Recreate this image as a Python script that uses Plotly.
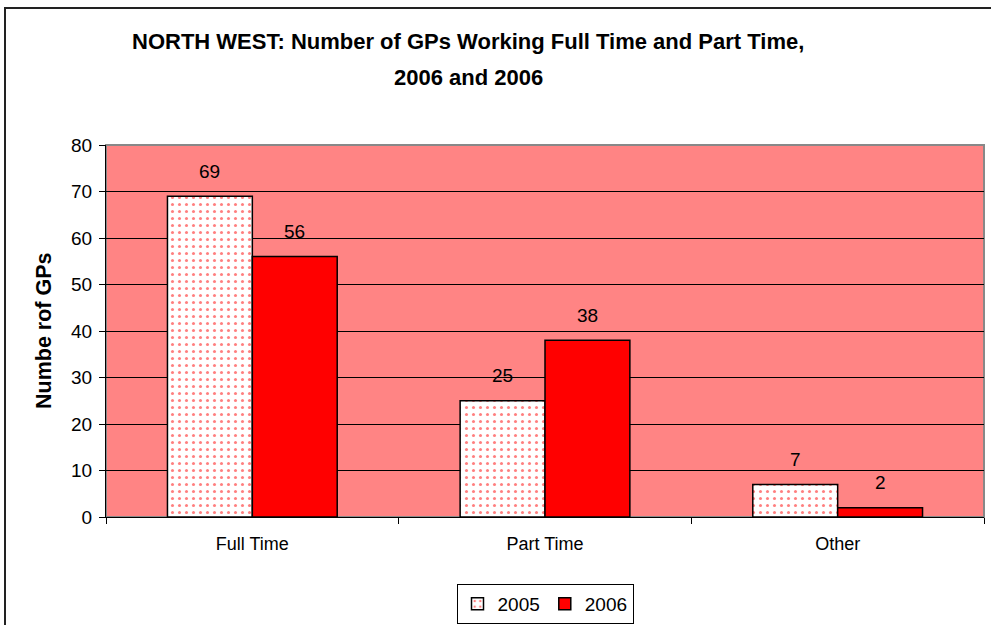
import plotly.graph_objects as go

categories = ["Full Time", "Part Time", "Other"]
values_2005 = [69, 25, 7]
values_2006 = [56, 38, 2]
series_names = ["2005", "2006"]
y_ticks = [0, 10, 20, 30, 40, 50, 60, 70, 80]

W, H = 991, 625
L, R, T, B = 106, 7, 145, 108
pw, ph = W - L - R, H - T - B
FONT = "Liberation Sans, Arial"


def px_x(p):
    return (p - L) / pw


def px_y(p):
    return 1 - (p - T) / ph


fig = go.Figure()
fig.add_trace(go.Bar(
    x=categories, y=values_2005, name=series_names[0],
    marker=dict(color="white", line=dict(color="black", width=1.5),
                pattern=dict(shape=".", fgcolor="#ff0000", bgcolor="white",
                             size=7, solidity=0.15)),
))
fig.add_trace(go.Bar(
    x=categories, y=values_2006, name=series_names[1],
    marker=dict(color="#ff0000", line=dict(color="black", width=1.5)),
))

annotations = []
for vals, shift in ((values_2005, -42.5), (values_2006, 42.5)):
    for c, v in zip(categories, vals):
        annotations.append(dict(x=c, y=v, xref="x", yref="y", text=str(v),
                                showarrow=False, xshift=shift, yshift=25,
                                font=dict(family=FONT, size=19, color="black")))

annotations += [
    dict(text="<b>NORTH WEST: Number of GPs Working Full Time and Part Time,</b>",
         xref="paper", yref="paper", x=px_x(468), y=px_y(41), showarrow=False,
         xanchor="center", yanchor="middle",
         font=dict(family=FONT, size=22, color="black")),
    dict(text="<b>2006 and 2006</b>",
         xref="paper", yref="paper", x=px_x(468), y=px_y(78), showarrow=False,
         xanchor="center", yanchor="middle",
         font=dict(family=FONT, size=22, color="black")),
    dict(text="<b>Numbe rof GPs</b>", textangle=-90,
         xref="paper", yref="paper", x=px_x(44), y=px_y(331), showarrow=False,
         xanchor="center", yanchor="middle",
         font=dict(family=FONT, size=21.5, color="black")),
]

fig.update_layout(
    width=W, height=H,
    margin=dict(l=L, r=R, t=T, b=B, autoexpand=False),
    paper_bgcolor="white",
    plot_bgcolor="#ff8484",
    barmode="group",
    bargap=0.42,
    bargroupgap=0,
    font=dict(family=FONT, size=19, color="black"),
    showlegend=True,
    legend=dict(orientation="h", x=0.5, xanchor="center", y=px_y(604), yanchor="middle",
                bordercolor="black", borderwidth=1, bgcolor="white",
                font=dict(size=19), traceorder="normal", itemwidth=30,
                tracegroupgap=0),
    annotations=annotations,
    shapes=[
        dict(type="rect", xref="paper", yref="paper", x0=px_x(5), x1=px_x(1000),
             y0=px_y(640), y1=px_y(8), line=dict(color="#222222", width=2), layer="below"),
        dict(type="rect", xref="paper", yref="paper", x0=0, x1=1, y0=0, y1=1,
             line=dict(color="#888888", width=2), layer="below"),
    ],
)
fig.update_xaxes(showline=True, linecolor="black", linewidth=1,
                 ticks="outside", ticklen=6, tickcolor="black", tickson="boundaries",
                 showgrid=False, tickfont=dict(size=18), ticklabelstandoff=10)
fig.update_yaxes(range=[0, 80], tickvals=y_ticks, showline=True, linecolor="black", linewidth=1,
                 ticks="outside", ticklen=6, tickcolor="black",
                 showgrid=True, gridcolor="black", gridwidth=1, zeroline=False,
                 tickfont=dict(size=19), ticklabelstandoff=3)

fig.write_html("out.html", config={"displayModeBar": False},
               post_script="document.body.style.margin='0';document.body.style.overflow='hidden';")
